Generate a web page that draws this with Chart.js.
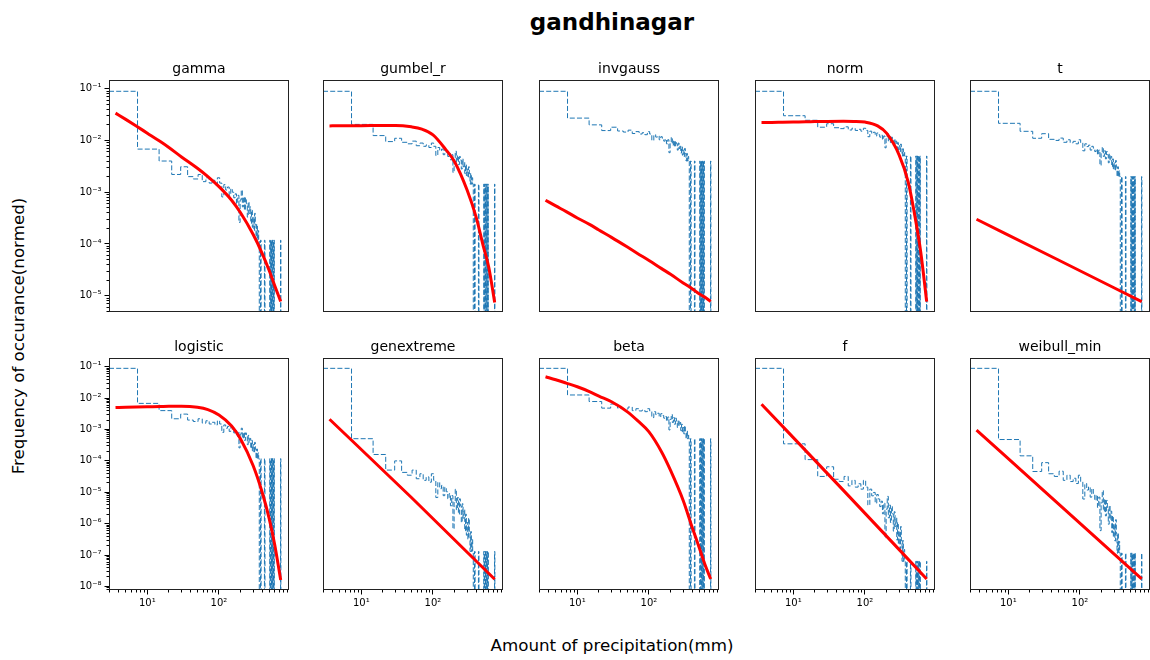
<!DOCTYPE html>
<html>
<head>
<meta charset="utf-8">
<title>gandhinagar</title>
<script src="https://cdn.jsdelivr.net/npm/chart.js@4.4.1/dist/chart.umd.min.js"></script>
<style>
  body { margin: 0; background: #fff; }
  #fig { position: relative; width: 1150px; height: 660px; overflow: hidden; background: #fff; font-family: 'DejaVu Sans', sans-serif; }
  #fig canvas { position: absolute; }
  .txt { position: absolute; color: #000; white-space: nowrap; line-height: 1; transform: translate(-50%, -50%); }
</style>
</head>
<body>
<div id="fig">
  <div class="txt" style="left:612px; top:22px; font-size:23px; font-weight:bold;">gandhinagar</div>
  <div class="txt" style="left:612px; top:645px; font-size:16.7px;">Amount of precipitation(mm)</div>
  <div class="txt" style="left:18px; top:336px; font-size:16.7px; transform: translate(-50%, -50%) rotate(-90deg);">Frequency of occurance(normed)</div>
</div>
<script>
// ===== DATA =====
// histogram bin edges (mm), shared by every panel
const binEdges = [
  0, 7.3, 14.6, 21.9, 29.2, 36.5, 43.8, 51.1, 58.4, 65.7,
  73, 80.3, 87.6, 94.9, 102.2, 109.5, 116.8, 124.1, 131.4, 138.7,
  146, 153.3, 160.6, 167.9, 175.2, 182.5, 189.8, 197.1, 204.4, 211.7,
  219, 226.3, 233.6, 240.9, 248.2, 255.5, 262.8, 270.1, 277.4, 284.7,
  292, 299.3, 306.6, 313.9, 321.2, 328.5, 335.8, 343.1, 350.4, 357.7,
  365, 372.3, 379.6, 386.9, 394.2, 401.5, 408.8, 416.1, 423.4, 430.7,
  438, 445.3, 452.6, 459.9, 467.2, 474.5, 481.8, 489.1, 496.4, 503.7,
  511, 518.3, 525.6, 532.9, 540.2, 547.5, 554.8, 562.1, 569.4, 576.7,
  584, 591.3, 598.6, 605.9, 613.2, 620.5, 627.8, 635.1, 642.4, 649.7,
  657, 664.3, 671.6, 678.9, 686.2, 693.5, 700.8, 708.1, 715.4, 722.7,
  730
];

// last 50 bins: single events (1) or empty (0), same in every panel
const tailCounts = [
  0, 0, 1, 0, 0, 0, 0, 0, 0, 1,
  0, 0, 0, 0, 0, 0, 0, 0, 0, 0,
  1, 0, 1, 1, 0, 1, 0, 1, 1, 0,
  1, 0, 0, 0, 0, 0, 0, 0, 0, 0,
  0, 0, 0, 0, 0, 0, 0, 0, 0, 1
];

// first 50 bins of each panel's histogram + height of one event in the tail
const histGamma = [
  8.9e-2, 6.8e-3, 4.0e-3, 2.2e-3, 3.1e-3, 2.0e-3, 1.8e-3, 2.2e-3, 1.6e-3, 1.9e-3,
  1.5e-3, 1.7e-3, 1.4e-3, 1.9e-3, 1.5e-3, 8.1e-4, 1.4e-3, 1.1e-3, 1.26e-3, 8.7e-4,
  1.17e-3, 1.0e-3, 7.8e-4, 9.3e-4, 6.0e-4, 8.7e-4, 2.6e-4, 7.1e-4, 1.1e-3, 5.2e-4,
  8.1e-4, 4.5e-4, 7.8e-4, 6.0e-4, 3.3e-4, 6.5e-4, 3.9e-4, 5.2e-4, 2.5e-4, 4.5e-4,
  2.1e-4, 3.3e-4, 1.8e-4, 3.9e-4, 2.4e-4, 1.18e-4, 2.4e-4, 1.18e-4, 1.8e-4, 1.18e-4
];
const tailGamma = 1.18e-4;

const histGumbel = [
  8.9e-2, 2.04e-2, 1.24e-2, 9.5e-3, 1.1e-2, 9.2e-3, 8.6e-3, 9.7e-3, 7.9e-3, 8.9e-3,
  7.7e-3, 8.2e-3, 7.3e-3, 8.9e-3, 7.7e-3, 5.1e-3, 7.3e-3, 6.3e-3, 6.8e-3, 5.3e-3,
  6.5e-3, 5.8e-3, 4.9e-3, 5.6e-3, 4.2e-3, 5.3e-3, 2.4e-3, 4.6e-3, 6.2e-3, 3.8e-3,
  5.1e-3, 3.4e-3, 4.9e-3, 4.2e-3, 2.8e-3, 4.4e-3, 3.1e-3, 3.8e-3, 2.3e-3, 3.4e-3,
  2.1e-3, 2.8e-3, 1.9e-3, 3.1e-3, 2.3e-3, 1.43e-3, 2.3e-3, 1.43e-3, 1.9e-3, 1.43e-3
];
const tailGumbel = 1.43e-3;

const histInvgauss = [
  8.9e-2, 2.7e-2, 2.0e-2, 1.55e-2, 1.8e-2, 1.52e-2, 1.45e-2, 1.58e-2, 1.36e-2, 1.48e-2,
  1.33e-2, 1.41e-2, 1.29e-2, 1.48e-2, 1.33e-2, 1.0e-2, 1.29e-2, 1.16e-2, 1.22e-2, 1.03e-2,
  1.18e-2, 1.1e-2, 9.7e-3, 1.06e-2, 8.6e-3, 1.03e-2, 5.8e-3, 9.3e-3, 1.15e-2, 8.1e-3,
  1.0e-2, 7.5e-3, 9.7e-3, 8.6e-3, 6.5e-3, 8.9e-3, 7.0e-3, 8.1e-3, 5.7e-3, 7.5e-3,
  5.2e-3, 6.5e-3, 4.9e-3, 7.0e-3, 5.6e-3, 4.0e-3, 5.6e-3, 4.0e-3, 4.9e-3, 4.0e-3
];
const tailInvgauss = 4.0e-3;

const histNorm = [
  8.9e-2, 3.0e-2, 2.45e-2, 1.8e-2, 2.1e-2, 1.76e-2, 1.69e-2, 1.83e-2, 1.59e-2, 1.72e-2,
  1.56e-2, 1.64e-2, 1.51e-2, 1.72e-2, 1.56e-2, 1.18e-2, 1.51e-2, 1.36e-2, 1.44e-2, 1.22e-2,
  1.39e-2, 1.29e-2, 1.16e-2, 1.26e-2, 1.04e-2, 1.22e-2, 7.2e-3, 1.11e-2, 1.35e-2, 9.7e-3,
  1.18e-2, 9.1e-3, 1.16e-2, 1.04e-2, 7.9e-3, 1.07e-2, 8.5e-3, 9.7e-3, 7.0e-3, 9.1e-3,
  6.5e-3, 7.9e-3, 6.1e-3, 8.5e-3, 6.9e-3, 5.0e-3, 6.9e-3, 5.0e-3, 6.0e-3, 5.0e-3
];
const tailNorm = 5.0e-3;

const histT = [
  8.9e-2, 2.14e-2, 1.5e-2, 1.1e-2, 1.35e-2, 1.05e-2, 1.0e-2, 1.11e-2, 9.2e-3, 1.03e-2,
  9.0e-3, 9.6e-3, 8.6e-3, 1.03e-2, 9.0e-3, 6.3e-3, 8.6e-3, 7.6e-3, 8.1e-3, 6.5e-3,
  7.7e-3, 7.1e-3, 6.1e-3, 6.8e-3, 5.3e-3, 6.5e-3, 3.3e-3, 5.8e-3, 7.4e-3, 4.9e-3,
  6.3e-3, 4.4e-3, 6.1e-3, 5.3e-3, 3.7e-3, 5.5e-3, 4.1e-3, 4.9e-3, 3.1e-3, 4.4e-3,
  2.8e-3, 3.7e-3, 2.6e-3, 4.1e-3, 3.1e-3, 2.0e-3, 3.1e-3, 2.0e-3, 2.6e-3, 2.0e-3
];
const tailT = 2.0e-3;

const histLogistic = [
  8.9e-2, 6.8e-3, 4.0e-3, 2.2e-3, 3.1e-3, 2.0e-3, 1.8e-3, 2.2e-3, 1.6e-3, 1.9e-3,
  1.5e-3, 1.7e-3, 1.4e-3, 1.9e-3, 1.5e-3, 8.1e-4, 1.4e-3, 1.1e-3, 1.26e-3, 8.7e-4,
  1.17e-3, 1.0e-3, 7.8e-4, 9.3e-4, 6.0e-4, 8.7e-4, 2.6e-4, 7.1e-4, 1.1e-3, 5.2e-4,
  8.1e-4, 4.5e-4, 7.8e-4, 6.0e-4, 3.3e-4, 6.5e-4, 3.9e-4, 5.2e-4, 2.5e-4, 4.5e-4,
  2.1e-4, 3.3e-4, 1.8e-4, 3.9e-4, 2.4e-4, 1.18e-4, 2.4e-4, 1.18e-4, 1.8e-4, 1.18e-4
];
const tailLogistic = 1.18e-4;

const histGenextreme = [
  8.9e-2, 5.1e-4, 1.6e-4, 5.1e-5, 1.0e-4, 4.3e-5, 3.5e-5, 5.1e-5, 2.7e-5, 3.9e-5,
  2.4e-5, 3.1e-5, 2.1e-5, 3.9e-5, 2.4e-5, 6.8e-6, 2.1e-5, 1.3e-5, 1.66e-5, 7.8e-6,
  1.45e-5, 1.04e-5, 6.2e-6, 9.0e-6, 3.7e-6, 7.8e-6, 6.8e-7, 5.1e-6, 1.25e-5, 2.8e-6,
  6.8e-6, 2.0e-6, 6.2e-6, 3.7e-6, 1.09e-6, 4.3e-6, 1.5e-6, 2.8e-6, 5.9e-7, 2.0e-6,
  4.3e-7, 1.09e-6, 3.2e-7, 1.5e-6, 5.6e-7, 1.3e-7, 5.6e-7, 1.3e-7, 3.1e-7, 1.3e-7
];
const tailGenextreme = 1.3e-7;

const histBeta = [
  8.9e-2, 1.26e-2, 7.8e-3, 4.8e-3, 6.5e-3, 4.8e-3, 4.5e-3, 5.2e-3, 4.0e-3, 4.6e-3,
  3.9e-3, 4.2e-3, 3.7e-3, 4.6e-3, 3.9e-3, 2.4e-3, 3.7e-3, 3.0e-3, 3.3e-3, 2.5e-3,
  3.2e-3, 2.8e-3, 2.3e-3, 2.6e-3, 1.86e-3, 2.5e-3, 9.7e-4, 2.1e-3, 3.0e-3, 1.67e-3,
  2.4e-3, 1.47e-3, 2.3e-3, 1.86e-3, 1.16e-3, 2.0e-3, 1.32e-3, 1.67e-3, 9.2e-4, 1.47e-3,
  8.1e-4, 1.16e-3, 7.2e-4, 1.32e-3, 9.0e-4, 5.1e-4, 9.0e-4, 5.1e-4, 7.1e-4, 5.1e-4
];
const tailBeta = 5.1e-4;

const histF = [
  8.9e-2, 3.5e-4, 1.1e-4, 3.2e-5, 6.5e-5, 2.6e-5, 2.2e-5, 3.2e-5, 1.6e-5, 2.4e-5,
  1.46e-5, 1.87e-5, 1.26e-5, 2.4e-5, 1.46e-5, 3.9e-6, 1.26e-5, 7.7e-6, 9.9e-6, 4.5e-6,
  8.5e-6, 6.1e-6, 3.5e-6, 5.2e-6, 2.06e-6, 4.5e-6, 3.5e-7, 2.9e-6, 7.4e-6, 1.53e-6,
  3.9e-6, 1.09e-6, 3.5e-6, 2.06e-6, 5.8e-7, 2.4e-6, 8.1e-7, 1.53e-6, 3.0e-7, 1.09e-6,
  2.2e-7, 5.8e-7, 1.6e-7, 8.1e-7, 2.9e-7, 6.3e-8, 2.9e-7, 6.3e-8, 1.5e-7, 6.3e-8
];
const tailF = 6.3e-8;

const histWeibull = [
  8.9e-2, 4.8e-4, 1.45e-4, 4.6e-5, 8.8e-5, 3.9e-5, 3.2e-5, 4.7e-5, 2.4e-5, 3.5e-5,
  2.2e-5, 2.8e-5, 1.9e-5, 3.5e-5, 2.2e-5, 6.1e-6, 1.9e-5, 1.18e-5, 1.5e-5, 7.0e-6,
  1.3e-5, 9.3e-6, 5.5e-6, 8.1e-6, 3.3e-6, 7.0e-6, 6.0e-7, 4.6e-6, 1.13e-5, 2.5e-6,
  6.1e-6, 1.77e-6, 5.5e-6, 3.3e-6, 9.6e-7, 3.8e-6, 1.34e-6, 2.5e-6, 5.2e-7, 1.77e-6,
  3.7e-7, 9.6e-7, 2.8e-7, 1.34e-6, 4.9e-7, 1.15e-7, 4.9e-7, 1.15e-7, 2.7e-7, 1.15e-7
];
const tailWeibull = 1.15e-7;

// fitted pdf curves (red)
const fitX = [3.6, 5, 7, 10, 15, 20, 30, 50, 70, 100, 150, 200, 300, 400, 500, 600, 726];
const fitGamma = [3.37e-2, 2.55e-2, 1.9e-2, 1.38e-2, 9.6e-3, 7.3e-3, 4.8e-3, 2.9e-3, 2.0e-3, 1.28e-3, 7.0e-4, 4.0e-4, 1.52e-4, 6.6e-5, 3.1e-5, 1.55e-5, 7.76e-6];
const fitGumbel = [1.91e-2, 1.92e-2, 1.93e-2, 1.93e-2, 1.94e-2, 1.95e-2, 1.95e-2, 1.83e-2, 1.65e-2, 1.28e-2, 6.73e-3, 3.88e-3, 1.09e-3, 3.3e-4, 9.4e-5, 3.55e-5, 7.4e-6];
const fitInvgauss = [7.0e-4, 5.43e-4, 4.22e-4, 3.18e-4, 2.36e-4, 1.86e-4, 1.34e-4, 8.7e-5, 6.5e-5, 4.8e-5, 3.34e-5, 2.6e-5, 1.76e-5, 1.37e-5, 1.09e-5, 9.4e-6, 7.76e-6];
const fitNorm = [2.22e-2, 2.23e-2, 2.25e-2, 2.27e-2, 2.29e-2, 2.31e-2, 2.33e-2, 2.34e-2, 2.33e-2, 2.26e-2, 1.91e-2, 1.38e-2, 5.2e-3, 1.58e-3, 3.3e-4, 6.9e-5, 7.7e-6];
const fitLogistic = [5.0e-3, 5.1e-3, 5.2e-3, 5.3e-3, 5.4e-3, 5.5e-3, 5.5e-3, 5.1e-3, 4.3e-3, 2.9e-3, 1.3e-3, 5.0e-4, 7.0e-5, 1.0e-5, 1.5e-6, 2.1e-7, 1.6e-8];
const fitBeta = [4.81e-2, 3.86e-2, 3.01e-2, 2.3e-2, 1.59e-2, 1.16e-2, 7.64e-3, 3.66e-3, 1.88e-3, 8.4e-4, 1.93e-4, 5.0e-5, 5.5e-6, 7.7e-7, 1.78e-7, 5.2e-8, 1.73e-8];
// straight fits read at three points
const lineX = [3.6, 50, 726];
const fitT = [3.0e-4, 4.9e-5, 7.7e-6];
const fitGenextreme = [2.13e-3, 6.8e-6, 1.69e-8];
const fitF = [6.4e-3, 1.15e-5, 1.73e-8];
const fitWeibull = [9.5e-4, 4.3e-6, 1.73e-8];

// tick labels
const xTicks = [10, 100];
const xTickLabels = ['10¹', '10²'];
const yTicksTop = [1e-5, 1e-4, 1e-3, 1e-2, 1e-1];
const yTickLabelsTop = ['10⁻⁵', '10⁻⁴', '10⁻³', '10⁻²', '10⁻¹'];
const yTicksBottom = [1e-8, 1e-7, 1e-6, 1e-5, 1e-4, 1e-3, 1e-2, 1e-1];
const yTickLabelsBottom = ['10⁻⁸', '10⁻⁷', '10⁻⁶', '10⁻⁵', '10⁻⁴', '10⁻³', '10⁻²', '10⁻¹'];

const panels = [
  { name: 'gamma', hist: histGamma, tail: tailGamma, fx: fitX, fy: fitGamma },
  { name: 'gumbel_r', hist: histGumbel, tail: tailGumbel, fx: fitX, fy: fitGumbel },
  { name: 'invgauss', hist: histInvgauss, tail: tailInvgauss, fx: fitX, fy: fitInvgauss },
  { name: 'norm', hist: histNorm, tail: tailNorm, fx: fitX, fy: fitNorm },
  { name: 't', hist: histT, tail: tailT, fx: lineX, fy: fitT },
  { name: 'logistic', hist: histLogistic, tail: tailLogistic, fx: fitX, fy: fitLogistic },
  { name: 'genextreme', hist: histGenextreme, tail: tailGenextreme, fx: lineX, fy: fitGenextreme },
  { name: 'beta', hist: histBeta, tail: tailBeta, fx: fitX, fy: fitBeta },
  { name: 'f', hist: histF, tail: tailF, fx: lineX, fy: fitF },
  { name: 'weibull_min', hist: histWeibull, tail: tailWeibull, fx: lineX, fy: fitWeibull }
];

// ===== LAYOUT =====
const X_MIN = 2.92, X_MAX = 948;
const Y_LIM = [[4.85e-6, 0.147], [7.7e-9, 0.19]];
const COL_LEFT = [109, 323, 539, 755, 970];
const ROW_TOP = [80, 358];
const PLOT_W = 180, PLOT_H = 232;
const AXIS_W = 45, TITLE_H = 30, XAXIS_H = 25, PAD_R = 6;

Chart.defaults.font.family = "'DejaVu Sans', sans-serif";
Chart.defaults.color = '#000';

// ===== HELPERS =====
function logTicks(min, max) {
  const ticks = [];
  for (let e = Math.floor(Math.log10(min)); e <= Math.floor(Math.log10(max)); e++) {
    for (let k = 1; k <= 9; k++) {
      const v = k * Math.pow(10, e);
      if (v >= min && v <= max) ticks.push({ value: v, major: k === 1 });
    }
  }
  return ticks;
}

function labelFor(v, values, labels) {
  const i = values.findIndex(t => Math.abs(Math.log10(t) - Math.log10(v)) < 1e-6);
  return i >= 0 ? labels[i] : '';
}

function logAxis(opts) {
  return {
    type: 'logarithmic',
    position: opts.position,
    min: opts.min,
    max: opts.max,
    bounds: 'data',
    afterFit: opts.fit,
    afterBuildTicks: scale => { scale.ticks = logTicks(opts.min, opts.max); },
    border: { display: false },
    ticks: {
      display: opts.show,
      autoSkip: false,
      maxRotation: 0,
      minRotation: 0,
      padding: 3,
      font: { size: 10 },
      color: '#000',
      callback: v => labelFor(v, opts.values, opts.labels)
    },
    grid: {
      display: opts.show,
      drawOnChartArea: false,
      drawTicks: true,
      tickLength: 4.5,
      tickWidth: 1,
      tickColor: '#000',
      lineWidth: 1,
      tickBorderDash: ctx => (ctx.tick && ctx.tick.major) ? [] : opts.minorDash
    }
  };
}

const framePlugin = {
  id: 'frame',
  afterDatasetsDraw(chart) {
    const { ctx, chartArea: a } = chart;
    ctx.save();
    ctx.strokeStyle = '#222';
    ctx.lineWidth = 1;
    ctx.strokeRect(Math.round(a.left) + 0.5, Math.round(a.top) + 0.5, Math.round(a.width) - 1, Math.round(a.height) - 1);
    ctx.restore();
  }
};

// ===== BUILD PANELS =====
const fig = document.getElementById('fig');

panels.forEach((p, idx) => {
  const row = Math.floor(idx / 5), col = idx % 5;
  const [yMin, yMax] = Y_LIM[row];

  const canvas = document.createElement('canvas');
  canvas.width = AXIS_W + PLOT_W + PAD_R;
  canvas.height = TITLE_H + PLOT_H + XAXIS_H;
  canvas.style.left = (COL_LEFT[col] - AXIS_W) + 'px';
  canvas.style.top = (ROW_TOP[row] - TITLE_H) + 'px';
  fig.appendChild(canvas);

  // step histogram: value i holds from edge i to edge i+1; empty bins fall below the axis
  const dens = p.hist.concat(tailCounts.map(c => c * p.tail));
  const histPts = dens.map((v, i) => ({ x: Math.max(binEdges[i], X_MIN), y: v > 0 ? v : yMin / 10 }));
  histPts.push({ x: binEdges[dens.length], y: yMin / 10 });

  const fitPts = p.fx.map((x, i) => ({ x: x, y: p.fy[i] }));

  new Chart(canvas, {
    type: 'line',
    data: {
      datasets: [
        {
          label: 'fit',
          data: fitPts,
          borderColor: '#ff0000',
          borderWidth: 3,
          pointRadius: 0,
          cubicInterpolationMode: 'monotone',
          order: 0
        },
        {
          label: 'hist',
          data: histPts,
          borderColor: '#1f77b4',
          borderWidth: 1,
          borderDash: [5, 2.2],
          pointRadius: 0,
          stepped: true,
          fill: false,
          order: 1
        }
      ]
    },
    options: {
      responsive: false,
      animation: false,
      devicePixelRatio: 1,
      events: [],
      layout: { padding: { left: 0, right: PAD_R, top: 0, bottom: 0 } },
      plugins: {
        legend: { display: false },
        tooltip: { enabled: false },
        title: {
          display: true,
          text: p.name,
          fullSize: false,
          color: '#000',
          font: { size: 14, weight: 'normal' },
          padding: { top: 10.5, bottom: 2.7 }
        }
      },
      scales: {
        x: logAxis({
          position: 'bottom', min: X_MIN, max: X_MAX, show: row === 1,
          values: xTicks, labels: xTickLabels, minorDash: [2.5, 100],
          fit: s => { s.height = XAXIS_H; }
        }),
        y: logAxis({
          position: 'left', min: yMin, max: yMax, show: col === 0,
          values: row === 0 ? yTicksTop : yTicksBottom,
          labels: row === 0 ? yTickLabelsTop : yTickLabelsBottom,
          minorDash: [0, 2, 2.5, 100],
          fit: s => { s.width = AXIS_W; }
        })
      }
    },
    plugins: [framePlugin]
  });
});
</script>
</body>
</html>
